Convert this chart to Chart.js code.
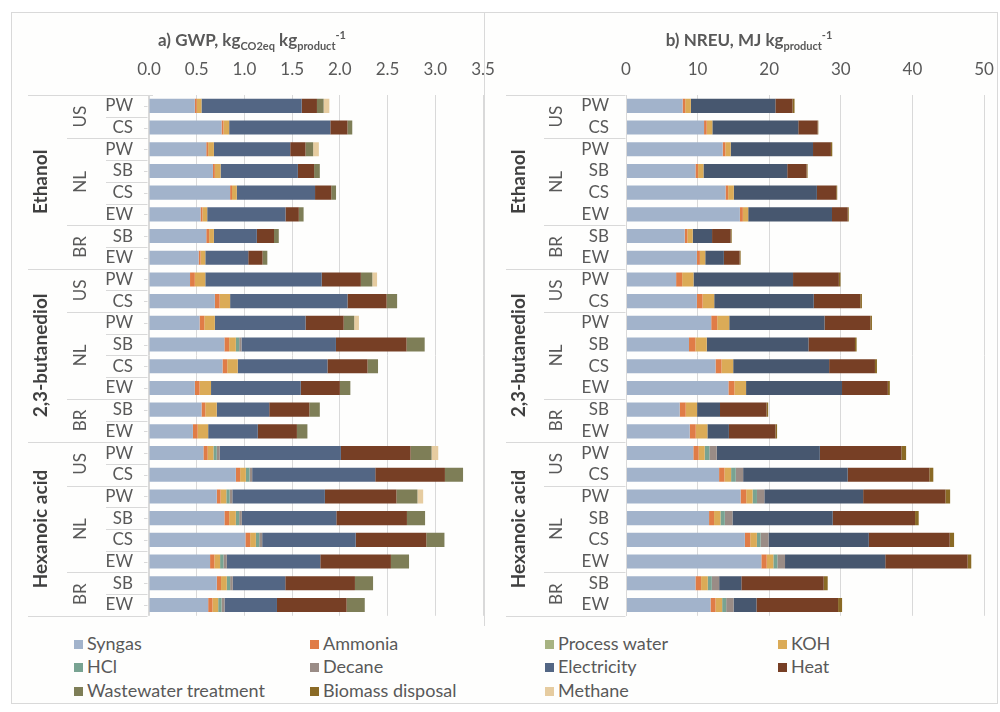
<!DOCTYPE html>
<html>
<head>
<meta charset="utf-8">
<script src="https://cdn.jsdelivr.net/npm/chart.js@4.4.1/dist/chart.umd.min.js"></script>
<style>
  body { margin: 0; background: #fff; font-family: Lato, "Open Sans", sans-serif; }
  #frame { position: absolute; left: 11px; top: 12px; width: 985px; height: 690px; border: 1px solid #d9d9d9; background: #fefefd; }
  #divider { position: absolute; left: 484px; top: 12px; width: 1px; height: 614px; background: #d9d9d9; }
  canvas { position: absolute; top: 12px; }
  #gwp { left: 11px; }
  #nreu { left: 484px; }
  .title { position: absolute; top: 25px; line-height: 20px; font-size: 17px; font-weight: bold; color: #595959; white-space: nowrap; transform: translateX(-50%); }
  .title sub, .title sup { font-size: 11px; }
  .item { position: absolute; font-size: 18px; color: #595959; white-space: nowrap; line-height: 20px; }
  .item span { display: inline-block; width: 9px; height: 9px; margin-right: 4px; vertical-align: 1px; }
</style>
</head>
<body>
<div id="frame"></div>
<canvas id="gwp" width="489" height="614"></canvas>
<div id="divider"></div>
<canvas id="nreu" width="513" height="614"></canvas>
<div class="title" style="left:252px">a) GWP, kg<sub>CO2eq</sub> kg<sub>product</sub><sup>-1</sup></div>
<div class="title" style="left:749px">b) NREU, MJ kg<sub>product</sub><sup>-1</sup></div>
<div id="legend"></div>
<script>
// categories
const products = ["Ethanol", "2,3-butanediol", "Hexanoic acid"];
const countries = ["US", "NL", "BR"];
const countryFeedstocks = [["PW", "CS"], ["PW", "SB", "CS", "EW"], ["SB", "EW"]];
const seriesNames = ["Syngas", "Ammonia", "Process water", "KOH", "HCl", "Decane",
  "Electricity", "Heat", "Wastewater treatment", "Biomass disposal", "Methane"];
const seriesColors = ["#a2b3cb", "#e07c47", "#a7b382", "#dbab57", "#78a392", "#9a8c86",
  "#536684", "#773f25", "#7e7e57", "#8a6a25", "#e6cca0"];
const nreuColors = seriesColors.map((c, i) => (i === 6 ? "#47576f" : c));

// a) GWP, kg CO2eq per kg product (rows: Ethanol x8, 2,3-butanediol x8, Hexanoic acid x8)
const gwpSyngas   = [0.48, 0.76, 0.60, 0.67, 0.85, 0.54, 0.60, 0.52,  0.43, 0.69, 0.53, 0.79, 0.77, 0.48, 0.55, 0.46,  0.57, 0.91, 0.71, 0.79, 1.01, 0.64, 0.71, 0.62];
const gwpAmmonia  = [0.02, 0.02, 0.02, 0.02, 0.02, 0.02, 0.03, 0.02,  0.05, 0.05, 0.05, 0.05, 0.05, 0.05, 0.04, 0.05,  0.045, 0.045, 0.04, 0.05, 0.05, 0.045, 0.045, 0.045];
const gwpWater    = [0, 0, 0, 0, 0, 0, 0, 0,  0, 0, 0, 0, 0, 0, 0, 0,  0, 0, 0, 0, 0, 0, 0, 0];
const gwpKOH      = [0.05, 0.06, 0.06, 0.06, 0.05, 0.05, 0.05, 0.05,  0.11, 0.11, 0.11, 0.07, 0.11, 0.12, 0.12, 0.11,  0.06, 0.06, 0.06, 0.07, 0.06, 0.06, 0.06, 0.06];
const gwpHCl      = [0, 0, 0, 0, 0, 0, 0, 0,  0, 0, 0, 0.035, 0, 0, 0, 0,  0.035, 0.038, 0.035, 0.035, 0.035, 0.035, 0.035, 0.035];
const gwpDecane   = [0, 0, 0, 0, 0, 0, 0, 0,  0, 0, 0, 0.024, 0, 0, 0, 0,  0.031, 0.028, 0.028, 0.028, 0.031, 0.035, 0.028, 0.031];
const gwpElec     = [1.05, 1.06, 0.80, 0.81, 0.82, 0.82, 0.45, 0.45,  1.22, 1.23, 0.95, 0.99, 0.94, 0.94, 0.55, 0.52,  1.27, 1.29, 0.97, 0.99, 0.98, 0.98, 0.55, 0.55];
const gwpHeat     = [0.16, 0.18, 0.16, 0.17, 0.17, 0.14, 0.18, 0.15,  0.41, 0.41, 0.40, 0.74, 0.42, 0.41, 0.42, 0.41,  0.73, 0.73, 0.75, 0.74, 0.74, 0.74, 0.73, 0.73];
const gwpWaste    = [0.07, 0.05, 0.08, 0.06, 0.05, 0.05, 0.05, 0.05,  0.12, 0.11, 0.11, 0.19, 0.11, 0.11, 0.11, 0.11,  0.22, 0.19, 0.22, 0.19, 0.19, 0.19, 0.19, 0.19];
const gwpBiomass  = [0, 0, 0, 0, 0, 0, 0, 0,  0, 0, 0, 0, 0, 0, 0, 0,  0, 0, 0, 0, 0, 0, 0, 0];
const gwpMethane  = [0.06, 0, 0.06, 0, 0, 0, 0, 0,  0.05, 0, 0.05, 0, 0, 0, 0, 0,  0.07, 0, 0.06, 0, 0, 0, 0, 0];

// b) NREU, MJ per kg product
const nreuSyngas  = [7.9, 10.9, 13.5, 9.7, 13.9, 15.9, 8.2, 9.9,  7.0, 9.9, 11.9, 8.8, 12.5, 14.3, 7.5, 8.9,  9.4, 13.0, 16.0, 11.6, 16.6, 18.9, 9.7, 11.8];
const nreuAmmonia = [0.37, 0.37, 0.37, 0.37, 0.37, 0.42, 0.37, 0.42,  0.84, 0.79, 0.84, 0.89, 0.84, 0.84, 0.84, 0.84,  0.75, 0.75, 0.79, 0.70, 0.75, 0.75, 0.79, 0.70];
const nreuWater   = [0, 0, 0, 0, 0, 0, 0, 0,  0, 0, 0, 0, 0, 0, 0, 0,  0, 0, 0, 0, 0, 0, 0, 0];
const nreuKOH     = [0.79, 0.79, 0.75, 0.75, 0.79, 0.75, 0.75, 0.75,  1.59, 1.63, 1.68, 1.59, 1.63, 1.63, 1.59, 1.63,  0.84, 0.93, 0.89, 0.89, 0.93, 0.93, 0.93, 0.93];
const nreuHCl     = [0, 0, 0, 0, 0, 0, 0, 0,  0, 0, 0, 0, 0, 0, 0, 0,  0.65, 0.65, 0.61, 0.61, 0.51, 0.56, 0.56, 0.56];
const nreuDecane  = [0, 0, 0, 0, 0, 0, 0, 0,  0, 0, 0, 0, 0, 0, 0, 0,  1.03, 1.03, 1.03, 1.07, 1.12, 1.07, 1.03, 1.03];
const nreuElec    = [11.8, 12.0, 11.5, 11.7, 11.6, 11.7, 2.7, 2.6,  13.9, 13.9, 13.3, 14.2, 13.4, 13.4, 3.2, 3.0,  14.4, 14.6, 13.8, 14.0, 14.0, 14.0, 3.1, 3.2];
const nreuHeat    = [2.4, 2.7, 2.5, 2.7, 2.7, 2.2, 2.6, 2.2,  6.4, 6.5, 6.4, 6.5, 6.4, 6.4, 6.5, 6.5,  11.4, 11.4, 11.5, 11.5, 11.3, 11.5, 11.5, 11.4];
const nreuWaste   = [0, 0, 0, 0, 0, 0, 0, 0,  0, 0, 0, 0, 0, 0, 0, 0,  0, 0, 0, 0, 0, 0, 0, 0];
const nreuBiomass = [0.28, 0.1, 0.19, 0.14, 0.14, 0.14, 0.14, 0.14,  0.23, 0.23, 0.23, 0.23, 0.28, 0.28, 0.23, 0.23,  0.65, 0.56, 0.65, 0.51, 0.61, 0.51, 0.56, 0.56];
const nreuMethane = [0, 0, 0, 0, 0, 0, 0, 0,  0, 0, 0, 0, 0, 0, 0, 0,  0, 0, 0, 0, 0, 0, 0, 0];

const gwpSeries = [gwpSyngas, gwpAmmonia, gwpWater, gwpKOH, gwpHCl, gwpDecane, gwpElec, gwpHeat, gwpWaste, gwpBiomass, gwpMethane];
const nreuSeries = [nreuSyngas, nreuAmmonia, nreuWater, nreuKOH, nreuHCl, nreuDecane, nreuElec, nreuHeat, nreuWaste, nreuBiomass, nreuMethane];

const rowLabels = products.flatMap(() => countryFeedstocks.flat());

// draws the product / country levels of the category axis and the divider lines
const groupAxis = {
  id: "groupAxis",
  afterDraw(chart, args, o) {
    const ctx = chart.ctx, y = chart.scales.y, area = chart.chartArea;
    const n = chart.data.labels.length;
    const edge = i => y.getPixelForValue(i - 0.5);
    const xEnd = area.left + o.lineEnd;
    ctx.save();
    ctx.strokeStyle = "#d9d9d9";
    ctx.lineWidth = 1;
    const hline = (x0, x1, yy) => {
      ctx.beginPath();
      ctx.moveTo(x0, Math.round(yy) + 0.5);
      ctx.lineTo(x1, Math.round(yy) + 0.5);
      ctx.stroke();
    };
    // axis line
    const ax = Math.round(area.left + o.lineEnd) + 0.5;
    ctx.beginPath(); ctx.moveTo(ax, edge(0)); ctx.lineTo(ax, edge(n)); ctx.stroke();
    hline(o.productX0, area.left + o.topEnd, edge(0));
    hline(o.productX0, xEnd, edge(n));

    let r = 0;
    products.forEach((p, pi) => {
      const pStart = r;
      countries.forEach((c, ci) => {
        const cStart = r;
        countryFeedstocks[ci].forEach((f, j) => {
          if (o.feedLines && j > 0) hline(o.feedX0, xEnd, edge(r));
          if (o.tickMarks) hline(area.left - 5, xEnd, y.getPixelForValue(r));
          r++;
        });
        if (ci > 0) hline(o.countryX0, xEnd, edge(cStart));
        ctx.save();
        ctx.translate(o.countryX, (edge(cStart) + edge(r)) / 2);
        ctx.rotate(-Math.PI / 2);
        ctx.font = "17px Lato";
        ctx.textAlign = "center";
        ctx.textBaseline = "middle";
        ctx.fillStyle = "#595959";
        ctx.fillText(c, 0, 0);
        ctx.restore();
      });
      if (pi > 0) hline(o.productX0, xEnd, edge(pStart));
      ctx.save();
      ctx.translate(o.productX, (edge(pStart) + edge(r)) / 2);
      ctx.rotate(-Math.PI / 2);
      ctx.font = "bold 19px Lato";
      ctx.textAlign = "center";
      ctx.textBaseline = "middle";
      ctx.fillStyle = "#404040";
      ctx.fillText(p, 0, 0);
      ctx.restore();
    });
    ctx.restore();
  }
};

function makeChart(id, series, colors, xMax, step, decimals, yWidth, padRight, labelGap, group) {
  return new Chart(document.getElementById(id), {
    type: "bar",
    data: {
      labels: rowLabels,
      datasets: series.map((d, i) => ({
        label: seriesNames[i],
        data: d,
        backgroundColor: colors[i],
        borderWidth: 0,
        barPercentage: 0.65,
        categoryPercentage: 1
      }))
    },
    options: {
      indexAxis: "y",
      responsive: false,
      animation: false,
      devicePixelRatio: 1,
      layout: { padding: { top: 0, right: padRight, bottom: 9, left: 0 } },
      plugins: { legend: { display: false }, tooltip: { enabled: false }, groupAxis: group },
      scales: {
        x: {
          position: "top",
          stacked: true,
          min: 0,
          max: xMax,
          grid: { color: "#d9d9d9", drawTicks: true, tickLength: 15, tickColor: "rgba(0,0,0,0)" },
          border: { display: false },
          ticks: {
            stepSize: step,
            padding: 0,
            maxRotation: 0,
            color: "#595959",
            font: { family: "Lato", size: 17 },
            callback: v => v.toFixed(decimals)
          },
          afterFit: s => { s.height = 83; }
        },
        y: {
          stacked: true,
          grid: { display: false, drawTicks: true, tickLength: labelGap },
          border: { display: false },
          ticks: { padding: 0, autoSkip: false, color: "#595959", font: { family: "Lato", size: 17 } },
          afterFit: s => { s.width = yWidth; }
        }
      }
    },
    plugins: [groupAxis]
  });
}

makeChart("gwp", gwpSeries, seriesColors, 3.5, 0.5, 1, 138, 17, 16,
  { productX0: 17, countryX0: 56, feedX0: 95, feedLines: true, tickMarks: true, lineEnd: -1.5, topEnd: 4, productX: 30, countryX: 70 });
makeChart("nreu", nreuSeries, nreuColors, 50, 10, 0, 142, 13, 17,
  { productX0: 22, countryX0: 60, feedX0: 0, feedLines: false, tickMarks: false, lineEnd: -0.5, topEnd: -0.5, productX: 35, countryX: 73 });

// legend
const legendX = [74, 310, 545, 778];
const legendY = [633, 656, 680];
const legend = document.getElementById("legend");
seriesNames.forEach((name, i) => {
  const el = document.createElement("div");
  el.className = "item";
  el.style.left = legendX[i % 4] + "px";
  el.style.top = legendY[Math.floor(i / 4)] + "px";
  el.innerHTML = '<span style="background:' + seriesColors[i] + '"></span>' + name;
  legend.appendChild(el);
});
</script>
</body>
</html>
